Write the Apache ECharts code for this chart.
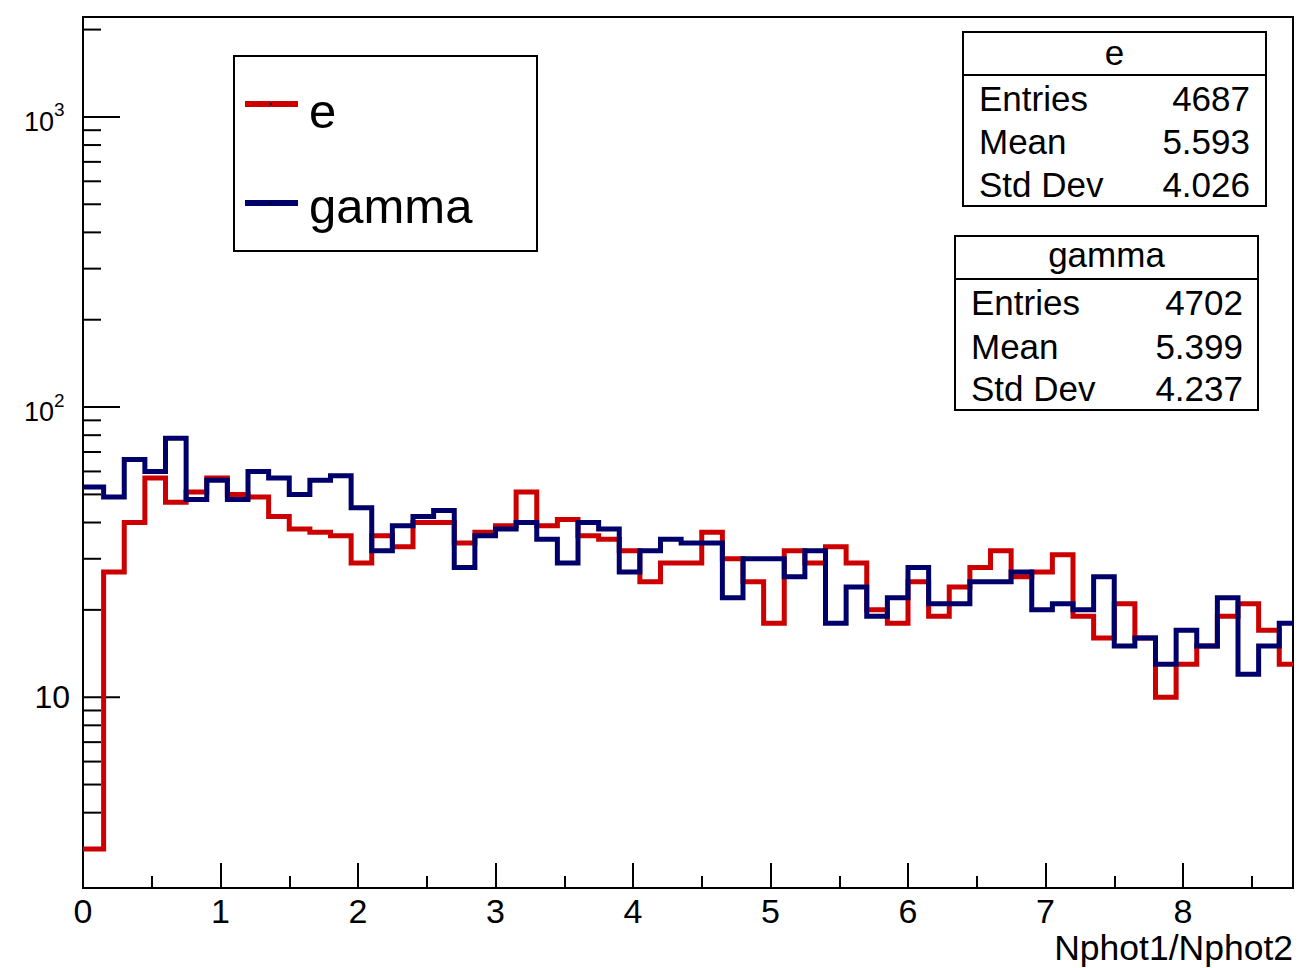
<!DOCTYPE html>
<html>
<head>
<meta charset="utf-8">
<script src="https://cdn.jsdelivr.net/npm/echarts@6/dist/echarts.min.js"></script>
<style>
html,body{margin:0;padding:0;background:#fff;}
#chart{width:1301px;height:968px;}
</style>
</head>
<body>
<div id="chart"></div>
<script>
// ---- data ----
const binStart = 0;
const binWidth = 0.15;
const xMin = 0;
const xMax = 8.8;
const eCounts = [3, 27, 40, 57, 47, 51, 57, 50, 49, 42, 38, 37, 36, 29, 36, 33, 40, 40, 34, 37,
  39, 51, 39, 41, 36, 35, 32, 25, 29, 29, 37, 30, 25, 18, 32, 29, 33, 29, 20, 18,
  25, 19, 24, 28, 32, 26, 27, 31, 19, 16, 21, 16, 10, 13, 15, 19, 21, 17, 13];
const gammaCounts = [53, 49, 66, 60, 78, 48, 56, 48, 60, 57, 50, 56, 58, 45, 32, 39, 42, 44, 28, 36,
  38, 40, 35, 29, 40, 38, 27, 32, 35, 34, 34, 22, 30, 30, 26, 32, 18, 24, 19, 22,
  28, 21, 21, 25, 25, 27, 20, 21, 20, 26, 15, 16, 13, 17, 15, 22, 12, 15, 18];
const seriesNames = ['e', 'gamma'];
const seriesColors = ['#cc0000', '#00006b'];
const xTickLabels = ['0', '1', '2', '3', '4', '5', '6', '7', '8'];
const xAxisTitle = 'Nphot1/Nphot2';
const yMajorTicks = [10, 100, 1000];
const yLabelBases = ['10', '10', '10'];
const yLabelExps = ['', '2', '3'];
const yMinorTicks = [3, 4, 5, 6, 7, 8, 9, 20, 30, 40, 50, 60, 70, 80, 90,
  200, 300, 400, 500, 600, 700, 800, 900, 2000];
const statLabels = ['Entries', 'Mean', 'Std Dev'];
const statsEValues = ['4687', '5.593', '4.026'];
const statsGammaValues = ['4702', '5.399', '4.237'];

// ---- build ----
const FONT = '"Liberation Sans", Arial, Helvetica, sans-serif';
function histPoints(counts) {
  const pts = counts.map((c, i) => [binStart + i * binWidth, c]);
  // close the last bin (clamped to the visible axis range)
  pts.push([Math.min(binStart + counts.length * binWidth, xMax), counts[counts.length - 1]]);
  return pts;
}

const chart = echarts.init(document.getElementById('chart'), null, {renderer: 'svg'});

function txt(text, x, y, size, align, extra) {
  return Object.assign({
    type: 'text', z: 100,
    style: {
      text: text, x: x, y: y, fill: '#000', fontSize: size, fontFamily: FONT,
      align: align, textAlign: align, verticalAlign: 'middle', textVerticalAlign: 'middle'
    }
  }, extra || {});
}

function statsBox(left, top, w, h, headerH, title, values, labelX, valueX, rowYs, titleY) {
  const els = [
    {type: 'rect', z: 90, shape: {x: left, y: top, width: w, height: h},
      style: {fill: '#fff', stroke: '#000', lineWidth: 2}},
    {type: 'line', z: 91, shape: {x1: left, y1: top + headerH, x2: left + w, y2: top + headerH},
      style: {stroke: '#000', lineWidth: 2}},
    txt(title, left + w / 2, titleY, 35, 'center')
  ];
  statLabels.forEach((l, i) => {
    els.push(txt(l, labelX, rowYs[i], 35, 'left'));
    els.push(txt(values[i], valueX, rowYs[i], 35, 'right'));
  });
  return els;
}

const graphics = [];
// legend box
graphics.push({type: 'rect', z: 90, shape: {x: 234, y: 56, width: 303, height: 195},
  style: {fill: '#fff', stroke: '#000', lineWidth: 2}});
[104, 203].forEach((ly, i) => {
  graphics.push({type: 'line', z: 91, shape: {x1: 245, y1: ly, x2: 298, y2: ly},
    style: {stroke: seriesColors[i], lineWidth: 6}});
  graphics.push({type: 'rect', z: 92, shape: {x: 270, y: ly - 1, width: 2, height: 2},
    style: {fill: '#000'}});
});
graphics.push(txt(seriesNames[0], 309, 111, 49, 'left'));
graphics.push(txt(seriesNames[1], 309, 206, 49, 'left'));
// stats boxes
graphics.push(...statsBox(963, 32, 303, 174, 43, seriesNames[0], statsEValues, 979, 1250,
  [98, 141, 184], 52));
graphics.push(...statsBox(955, 236, 303, 174, 43, seriesNames[1], statsGammaValues, 971, 1243,
  [302, 346, 388], 254));
// x axis title
graphics.push(txt(xAxisTitle, 1293, 948, 35.5, 'right'));

const option = {
  animation: false,
  backgroundColor: '#fff',
  grid: {left: 83, top: 17, width: 1210, height: 871, show: true,
    borderColor: '#000', borderWidth: 2, backgroundColor: 'transparent', containLabel: false},
  xAxis: {
    type: 'value', min: xMin, max: xMax, interval: 1,
    axisLine: {show: true, onZero: false, lineStyle: {color: '#000', width: 2}},
    axisTick: {show: true, inside: true, length: 25, lineStyle: {color: '#000', width: 2}},
    minorTick: {show: true, splitNumber: 2, length: 12, lineStyle: {color: '#000', width: 2}},
    splitLine: {show: false},
    axisLabel: {show: true, showMaxLabel: false, margin: 6, color: '#000', fontSize: 34,
      lineHeight: 34, fontFamily: FONT, formatter: (v) => {
        const i = Math.round(v);
        return Math.abs(v - i) < 1e-9 && xTickLabels[i] !== undefined ? xTickLabels[i] : '';
      }}
  },
  yAxis: {
    type: 'log', logBase: 10, min: 2.2, max: 2210,
    axisLine: {show: true, lineStyle: {color: '#000', width: 2}},
    axisTick: {show: false}, axisLabel: {show: false}, splitLine: {show: false},
    minorTick: {show: false}
  },
  graphic: graphics,
  series: [
    {
      type: 'custom', name: 'yMinor', silent: true, z: 1,
      data: yMinorTicks.map(v => [0, v]),
      renderItem: (params, api) => {
        const p = api.coord([0, api.value(1)]);
        return {type: 'line', shape: {x1: p[0], y1: p[1], x2: p[0] + 18, y2: p[1]},
          style: {stroke: '#000', lineWidth: 2}};
      }
    },
    {
      type: 'custom', name: 'yMajor', silent: true, z: 1,
      data: yMajorTicks.map(v => [0, v]),
      renderItem: (params, api) => {
        const p = api.coord([0, api.value(1)]);
        const i = params.dataIndex;
        const children = [
          {type: 'line', shape: {x1: p[0], y1: p[1], x2: p[0] + 37, y2: p[1]},
            style: {stroke: '#000', lineWidth: 2}}
        ];
        if (!yLabelExps[i]) {
          children.push({type: 'text', style: {text: yLabelBases[i], x: p[0] - 13, y: p[1],
            fill: '#000', fontSize: 32, fontFamily: FONT, align: 'right', verticalAlign: 'middle'}});
        } else {
          children.push({type: 'text', style: {text: yLabelBases[i], x: p[0] - 29, y: p[1] + 5,
            fill: '#000', fontSize: 27, fontFamily: FONT, align: 'right', verticalAlign: 'middle'}});
          children.push({type: 'text', style: {text: yLabelExps[i], x: p[0] - 29, y: p[1] - 7,
            fill: '#000', fontSize: 19, fontFamily: FONT, align: 'left', verticalAlign: 'middle'}});
        }
        return {type: 'group', children: children};
      }
    },
    {
      type: 'line', name: seriesNames[0], step: 'end', symbol: 'none', clip: true, z: 5,
      data: histPoints(eCounts),
      lineStyle: {color: seriesColors[0], width: 5, join: 'miter'},
      itemStyle: {color: seriesColors[0]}
    },
    {
      type: 'line', name: seriesNames[1], step: 'end', symbol: 'none', clip: true, z: 6,
      data: histPoints(gammaCounts),
      lineStyle: {color: seriesColors[1], width: 5, join: 'miter'},
      itemStyle: {color: seriesColors[1]}
    }
  ]
};
chart.setOption(option);
</script>
</body>
</html>
